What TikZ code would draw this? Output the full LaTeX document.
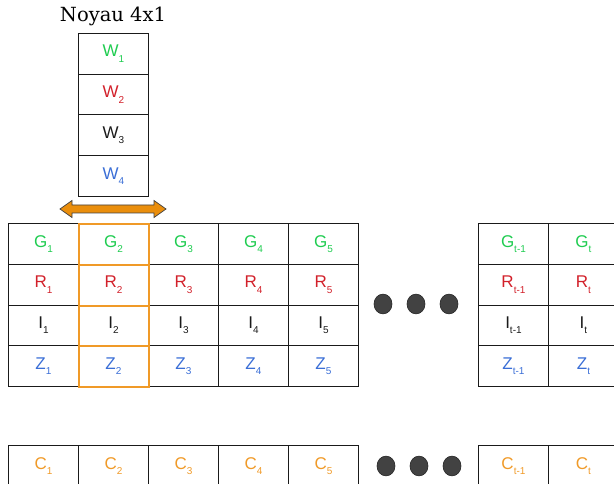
\documentclass[tikz,border=0pt]{standalone}
\usepackage{fontspec}
\setmainfont{Liberation Sans}
\newfontfamily\titlefont{DejaVu Serif}
\definecolor{cg}{HTML}{1FCC50}
\definecolor{cr}{HTML}{D2202A}
\definecolor{cb}{HTML}{3A6ED6}
\definecolor{co}{HTML}{F09A28}
\definecolor{ck}{HTML}{1A1A1A}
\definecolor{dotgray}{HTML}{424242}
\definecolor{arrowor}{HTML}{EA8E0C}
\newcommand{\lbl}[2]{\fontsize{17}{17}\selectfont #1\raisebox{-0.6ex}{\fontsize{10}{10}\selectfont #2}}
\tikzset{
  cell/.style={draw=ck, line width=0.9pt, minimum width=70pt, minimum height=40.8pt, inner sep=0pt, anchor=north west},
  hcell/.style={draw=co, line width=2pt, minimum width=70pt, minimum height=40.8pt, inner sep=0pt, anchor=north west},
  ellip/.style={circle, fill=dotgray, draw=black!85, line width=0.6pt, minimum width=18pt, minimum height=18pt, inner sep=0pt, yscale=1.1}
}
\begin{document}
\begin{tikzpicture}[x=1pt,y=-1pt]
\useasboundingbox (0,0) rectangle (614,484);
% title
\node (title) at (113,16) {\titlefont\fontsize{19.5}{19.5}\selectfont Noyau 4x1};
% kernel column
\node[cell, minimum height=40.75pt] (w1) at (78,33) {\color{cg}\lbl{W}{1}};
\node[cell, minimum height=40.75pt] (w2) at (78,73.75) {\color{cr}\lbl{W}{2}};
\node[cell, minimum height=40.75pt] (w3) at (78,114.5) {\color{ck}\lbl{W}{3}};
\node[cell, minimum height=40.75pt] (w4) at (78,155.25) {\color{cb}\lbl{W}{4}};
% sliding arrow (double-headed block arrow)
\fill[arrowor, draw=black!75, line width=0.7pt, line join=miter]
  (60,209) -- (72,200.5) -- (72,205) -- (154,205) -- (154,200.5) -- (166,209)
  -- (154,217.5) -- (154,213) -- (72,213) -- (72,217.5) -- cycle;
% main grid
\foreach \i in {1,...,5}{
  \pgfmathsetmacro{\xx}{8+70*(\i-1)}
  \node[cell] (g\i) at (\xx,223) {\color{cg}\lbl{G}{\i}};
  \node[cell] (r\i) at (\xx,263.8) {\color{cr}\lbl{R}{\i}};
  \node[cell] (i\i) at (\xx,304.6) {\color{ck}\lbl{I}{\i}};
  \node[cell] (z\i) at (\xx,345.4) {\color{cb}\lbl{Z}{\i}};
  \node[cell] (c\i) at (\xx,445) {\color{co}\lbl{C}{\i}};
}
% highlighted column
\node[hcell] (hg) at (78,223) {};
\node[hcell] (hr) at (78,263.8) {};
\node[hcell] (hi) at (78,304.6) {};
\node[hcell] (hz) at (78,345.4) {};
% last columns
\node[cell] (gt1) at (478,223) {\color{cg}\lbl{G}{t-1}};
\node[cell] (rt1) at (478,263.8) {\color{cr}\lbl{R}{t-1}};
\node[cell] (it1) at (478,304.6) {\color{ck}\lbl{I}{t-1}};
\node[cell] (zt1) at (478,345.4) {\color{cb}\lbl{Z}{t-1}};
\node[cell] (ct1) at (478,445) {\color{co}\lbl{C}{t-1}};
\node[cell] (gt) at (548,223) {\color{cg}\lbl{G}{t}};
\node[cell] (rt) at (548,263.8) {\color{cr}\lbl{R}{t}};
\node[cell] (it) at (548,304.6) {\color{ck}\lbl{I}{t}};
\node[cell] (zt) at (548,345.4) {\color{cb}\lbl{Z}{t}};
\node[cell] (ct) at (548,445) {\color{co}\lbl{C}{t}};
% ellipsis dots
\node[ellip] (d1) at (383,304) {};
\node[ellip] (d2) at (416,304) {};
\node[ellip] (d3) at (449,304) {};
\node[ellip] (e1) at (386,466) {};
\node[ellip] (e2) at (419,466) {};
\node[ellip] (e3) at (452,466) {};
\end{tikzpicture}
\end{document}
